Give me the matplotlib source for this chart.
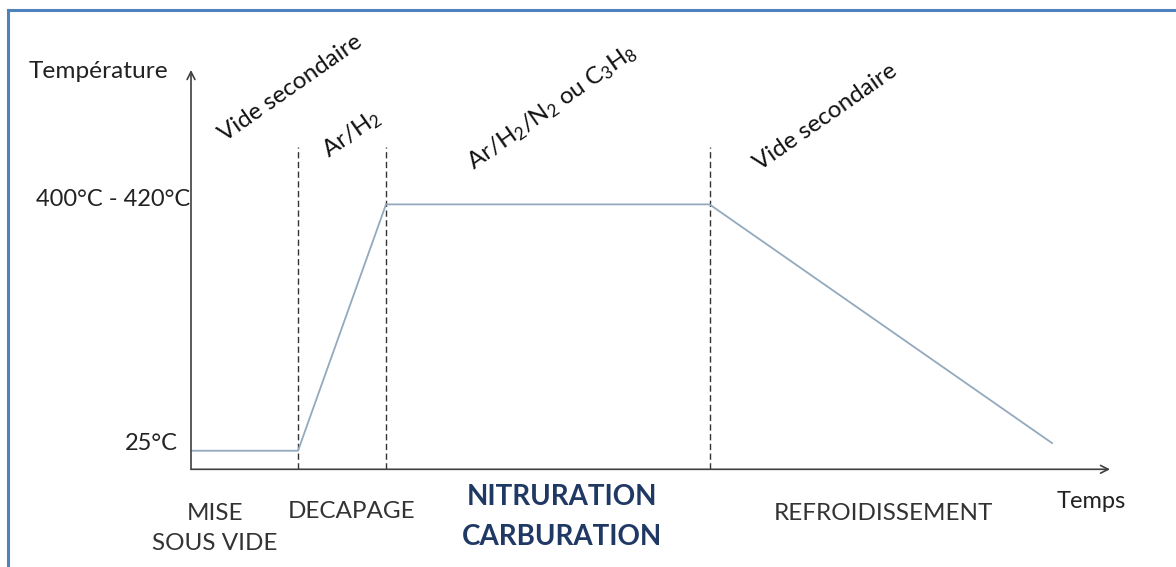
import matplotlib
matplotlib.use("Agg")
import matplotlib.pyplot as plt
from matplotlib.lines import Line2D

# -----------------------------------
# DATA (time in arbitrary units, temperature in °C)
# -----------------------------------

time = [0, 107, 195, 518.5, 861]
temperature = [25, 25, 410, 410, 37]
phase_bounds = [107, 195, 518.5]
dash_top = 500

phase_labels = ["MISE\nSOUS VIDE", "DECAPAGE", "NITRURATION\nCARBURATION", "REFROIDISSEMENT"]
gas_labels = ["Vide secondaire", "Ar/H$_2$", "Ar/H$_2$/N$_2$ ou C$_3$H$_8$", "Vide secondaire"]
level_labels = ["400°C - 420°C", "25°C"]

# -----------------------------------
# STYLE
# -----------------------------------

plt.rcParams["font.family"] = ["Lato", "DejaVu Sans"]
plt.rcParams["mathtext.fontset"] = "custom"
plt.rcParams["mathtext.rm"] = "Lato"
plt.rcParams["mathtext.it"] = "Lato"
plt.rcParams["mathtext.bf"] = "Lato:bold"

W, H = 1176, 567
TXT = "#222222"
FS = 17

fig = plt.figure(figsize=(W / 100, H / 100), dpi=100)
fig.patch.set_facecolor("white")


def fx(px):
    return px / W


def fy(py):
    return 1 - py / H


# blue frame (top and left edges visible)
fig.add_artist(Line2D([fx(7.5), fx(W + 5)], [fy(9.5), fy(9.5)], color="#4F81BD", lw=2.2))
fig.add_artist(Line2D([fx(7.5), fx(7.5)], [fy(9.5), fy(H + 5)], color="#4F81BD", lw=2.2))

ax = fig.add_axes([fx(191), fy(469.3), fx(1110) - fx(191), fy(70) - fy(469.3)])
ax.set_xlim(0, 919)
ax.set_ylim(-4, 620)
ax.axis("off")

# axes with open arrow heads
arrow = dict(arrowstyle="->,head_length=0.55,head_width=0.28", color="#404040", lw=1.2, shrinkA=0, shrinkB=0)
ax.annotate("", xy=(1, 0), xytext=(0, 0), xycoords="axes fraction", arrowprops=arrow)
ax.annotate("", xy=(0, 1), xytext=(0, 0), xycoords="axes fraction", arrowprops=arrow)

# phase separators
ax.vlines(phase_bounds, -4, dash_top, colors="#333333", linestyles=(0, (4.5, 2.5)), lw=1.0)

# temperature cycle
ax.plot(time, temperature, color="#93A9BD", lw=1.3, solid_joinstyle="miter")

# level labels
fig.text(fx(190), fy(200), level_labels[0], ha="right", va="center", fontsize=FS, color=TXT)
fig.text(fx(178), fy(444), level_labels[1], ha="right", va="center", fontsize=FS, color=TXT)
fig.text(fx(29), fy(71), "Température", ha="left", va="center", fontsize=FS + 0.6, color=TXT)
fig.text(fx(1091), fy(502), "Temps", ha="center", va="center", fontsize=FS, color=TXT)

# gas labels (rotated)
gas_pos = [(291, 88), (352, 134), (552, 107), (826, 117)]
for lab, (px, py) in zip(gas_labels, gas_pos):
    fig.text(fx(px), fy(py), lab, ha="center", va="center", rotation=35,
             rotation_mode="anchor", fontsize=FS + 0.4, color="#111111")

# phase labels
phase_pos = [(215, 528.5), (352, 512), (562, 517), (883, 514)]
for lab, (px, py) in zip(phase_labels, phase_pos):
    bold = lab.startswith("NITRURATION")
    fig.text(fx(px), fy(py), lab, ha="center", va="center", fontsize=20 if bold else FS + 0.5,
             color="#1F3864" if bold else "#333333", fontweight="bold" if bold else "normal",
             linespacing=1.62 if bold else 1.58)

fig.savefig("out.png", dpi=100)
